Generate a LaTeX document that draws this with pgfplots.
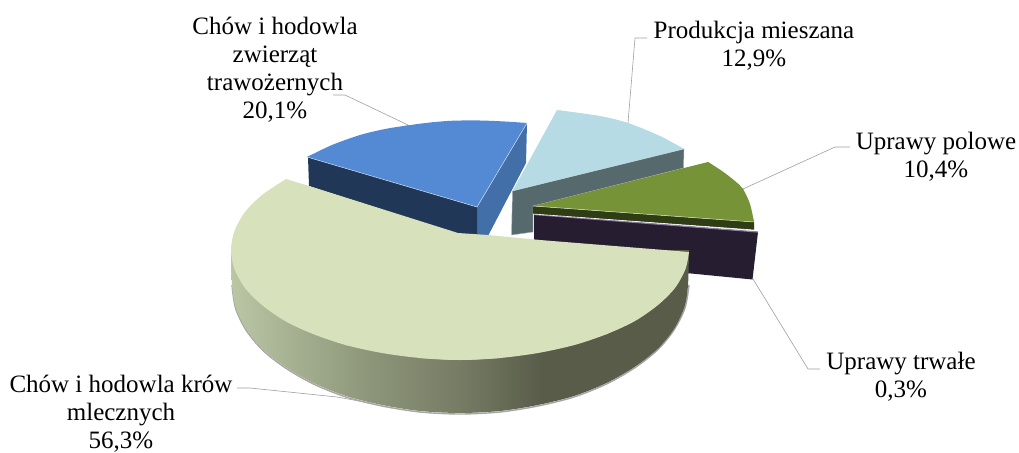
\documentclass[border=0pt]{standalone}
\usepackage{fontspec}
\setmainfont{Liberation Serif}
\usepackage{pgfplots}
\pgfplotsset{compat=1.18}
\definecolor{mtop}{HTML}{D7E2BC}
\definecolor{btop}{HTML}{548AD3}
\definecolor{bdark}{HTML}{213757}
\definecolor{bside}{HTML}{426FA8}
\definecolor{ltop}{HTML}{B6DBE5}
\definecolor{lside}{HTML}{566A6E}
\definecolor{gtop}{HTML}{779338}
\definecolor{gside}{HTML}{2F3D15}
\definecolor{pside}{HTML}{271D31}
\definecolor{ptop}{HTML}{8E7CA8}
\definecolor{sa}{HTML}{BAC6A4}
\definecolor{sb}{HTML}{8D967A}
\definecolor{sc}{HTML}{767C64}
\definecolor{sd}{HTML}{585C49}
\pgfdeclarehorizontalshading{sideshade}{100bp}{color(0bp)=(sa); color(25bp)=(sa); color(40bp)=(sb); color(50bp)=(sc); color(59bp)=(sd); color(100bp)=(sd)}
\tikzset{lab/.style={font=\fontsize{25}{28}\selectfont,align=center,text=black,inner sep=0pt},
 lead/.style={draw=gray!75,line width=0.6pt}}
\begin{document}
\begin{tikzpicture}
\useasboundingbox (0,0) rectangle (1019pt,452pt);
\begin{axis}[at={(0,0)},anchor=south west,scale only axis,width=1019pt,height=452pt,
 xmin=0,xmax=1019,ymin=0,ymax=452,y dir=reverse,hide axis,clip=false]
% leaders
\addplot[lead] coordinates {(408,125)(345,95)(333,95)};
\addplot[lead] coordinates {(628,123)(635,38)(647,38)};
\addplot[lead] coordinates {(743,189)(835,147)(850,147)};
\addplot[lead] coordinates {(753,279)(808,369)(820,369)};
\addplot[lead] coordinates {(237,388)(250,388)(337,397)(370,403)};
% light blue slice
\addplot[fill=lside,draw=gray!60,line width=0.4pt] coordinates {(512.5,191)(684,149)(683.5,168)(533,206)(533,232)(511.5,235)} --cycle;
\addplot[fill=ltop,draw=none] coordinates {(512.5,191)(557,110)(628,123)(684,149)} --cycle;
\addplot[smooth,fill=ltop,draw=none] coordinates {(557,110)(600,116)(628,123)(660,136)(684,149)} --cycle;
% blue slice
\addplot[fill=bside,draw=none] coordinates {(477,207)(527,123)(526,163)(488,236)(477,236)} --cycle;
\addplot[fill=bdark,draw=none] coordinates {(308,157)(477,207)(477,236)(458,234)(309,186)} --cycle;
\addplot[fill=btop,draw=none] coordinates {(307,157)(407,125.5)(527,123)(477,207)} --cycle;
\addplot[smooth,fill=btop,draw=none] coordinates {(307,157)(332,145)(360,135)(385,129)(407,125.5)(430,122.5)(453,120.7)(480,120.5)(505,121.5)(527,123)} --cycle;
\addplot[draw=white!70!btop,line width=0.5pt] coordinates {(307,157)(477,207)(527,123)};
% purple slice
\addplot[fill=pside,draw=none] coordinates {(534,214)(758,232)(752.5,279.5)(686,273)(534,240)} --cycle;
\addplot[draw=ptop,line width=1.2pt] coordinates {(534,214.5)(758,232)};
% green slice
\addplot[fill=gside,draw=none] coordinates {(533,206)(754,222)(754,230)(533,214)} --cycle;
\addplot[fill=gtop,draw=none] coordinates {(533,206)(708,162)(743,189)(754,222)} --cycle;
\addplot[smooth,fill=gtop,draw=none] coordinates {(708,162)(722,171)(735,181)(743,189)(750,204)(754,222)} --cycle;
\addplot[draw=white!70!gtop,line width=0.5pt] coordinates {(533,206)(754,222)};
\addplot[draw=white,line width=0.6pt] coordinates {(533,214)(754,230)};
% main slice shadow
\addplot[smooth,draw=gray!70,line width=1.4pt] coordinates {(232,285)(235.5,308)(246,330)(262.5,350)(285.5,368)(313.5,384)(346,397)(382,406)(420,412)(460,414)(500,412)(538,406)(574,397)(606.5,384)(634.5,368)(657.5,350)(674,330)(685,308)(689,285)};
% main slice side
\addplot[smooth,shade,shading=sideshade,draw=none] coordinates {(231,250)(232,285)(235.5,307)(246,329)(262.5,349)(285.5,367)(313.5,383)(346,396)(382,405)(420,411)(460,413)(500,411)(538,405)(574,396)(606.5,383)(634.5,367)(657.5,349)(674,329)(684.5,307)(688,285)(689,250)} --cycle;
% main slice top
\addplot[fill=mtop,draw=none] coordinates {(286,179)(231,250)(345.5,345)(460,360)(607,334)(689,252)(540,240)(488,235)(458,233)(309,186)} --cycle;
\addplot[smooth,fill=mtop,draw=none] coordinates {(286,179)(262,195)(245,212)(234.5,231)(231,250)(234.5,269)(245,288)(262,305)(285,321)(313,334)(345.5,345)(382,353)(420,358)(460,360)(500,358)} --cycle;
\addplot[smooth,fill=mtop,draw=none] coordinates {(420,358)(460,360)(500,358)(538,353)(574.5,345)(607,334)(635,321)(658,305)(675,288)(685.5,269)(689,252)} --cycle;
% labels
\node[lab] at (axis cs:275,70) {Chów i hodowla\\zwierząt\\trawożernych\\20,1\%};
\node[lab] at (axis cs:754,46) {Produkcja mieszana\\12,9\%};
\node[lab] at (axis cs:936,157) {Uprawy polowe\\10,4\%};
\node[lab] at (axis cs:901,377) {Uprawy trwałe\\0,3\%};
\node[lab] at (axis cs:121,413.5) {Chów i hodowla krów\\mlecznych\\56,3\%};
\end{axis}
\end{tikzpicture}
\end{document}
